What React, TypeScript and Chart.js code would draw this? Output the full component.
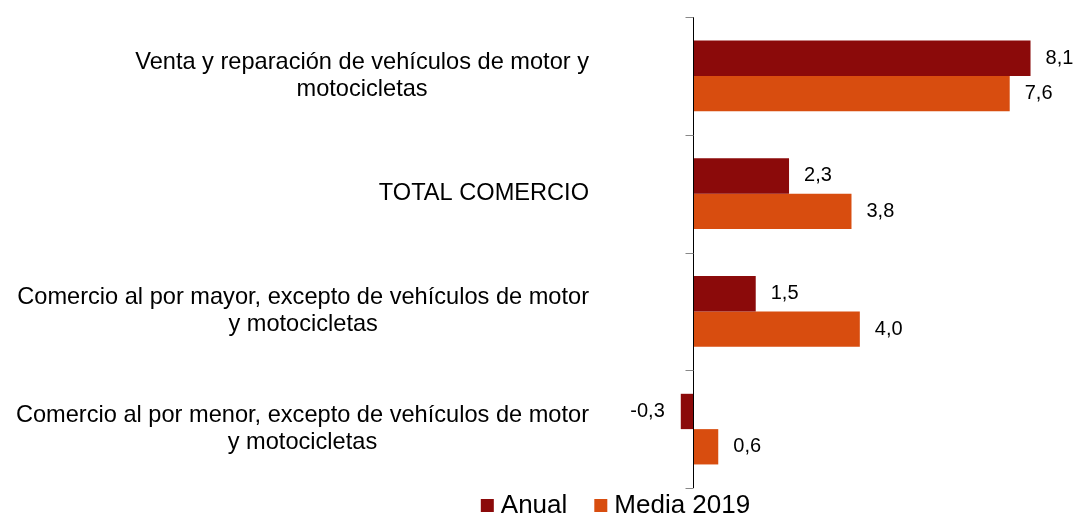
import React, { useEffect, useRef } from 'react';
import { Chart, registerables } from 'chart.js';
Chart.register(...registerables);

const categories: string[][] = [
  ['Venta y reparación de vehículos de motor y', 'motocicletas'],
  ['TOTAL COMERCIO'],
  ['Comercio al por mayor, excepto de vehículos de motor', 'y motocicletas'],
  ['Comercio al por menor, excepto de vehículos de motor', 'y motocicletas'],
];
const seriesNames = ['Anual', 'Media 2019'];
const anual = [8.1, 2.3, 1.5, -0.3];
const media2019 = [7.6, 3.8, 4.0, 0.6];
const seriesColors = ['#8B0A0A', '#D84D0F'];

const FONT = '"Liberation Sans", Arial, sans-serif';
const W = 1076;
const H = 514;

const customPlugin = {
  id: 'customDraw',
  afterDatasetsDraw(chart: any) {
    const ctx = chart.ctx;
    const ys = chart.scales.y;
    const xs = chart.scales.x;
    const area = chart.chartArea;
    const zeroX = Math.round(xs.getPixelForValue(0)) + 0.5;
    ctx.save();
    // data labels
    ctx.font = `20px ${FONT}`;
    ctx.fillStyle = '#000';
    ctx.textBaseline = 'middle';
    chart.data.datasets.forEach((ds: any, di: number) => {
      const meta = chart.getDatasetMeta(di);
      meta.data.forEach((bar: any, i: number) => {
        const v = ds.data[i] as number;
        const txt = v.toFixed(1).replace('.', ',');
        if (v >= 0) {
          ctx.textAlign = 'left';
          ctx.fillText(txt, bar.x + 15, bar.y);
        } else {
          ctx.textAlign = 'right';
          ctx.fillText(txt, bar.x - 16, bar.y);
        }
      });
    });
    // category labels: block right-aligned, lines centered
    ctx.font = `23.6px ${FONT}`;
    ctx.textAlign = 'center';
    const lh = 27;
    const labelRight = area.left - 21;
    categories.forEach((lines, i) => {
      const cy = ys.getPixelForValue(i);
      const widest = Math.max(...lines.map((l) => ctx.measureText(l).width));
      const cx = labelRight - widest / 2;
      lines.forEach((l, k) => {
        ctx.fillText(l, cx, cy + (k - (lines.length - 1) / 2) * lh);
      });
    });
    // axis line at zero
    ctx.lineWidth = 1;
    ctx.strokeStyle = '#000';
    ctx.beginPath();
    ctx.moveTo(zeroX, area.top);
    ctx.lineTo(zeroX, area.bottom);
    ctx.stroke();
    // tick marks at category boundaries
    ctx.strokeStyle = '#888';
    for (let i = 0; i <= categories.length; i++) {
      const ty = Math.round(ys.getPixelForValue(i - 0.5)) + 0.5;
      ctx.beginPath();
      ctx.moveTo(zeroX - 8, ty);
      ctx.lineTo(zeroX, ty);
      ctx.stroke();
    }
    // legend
    ctx.font = `26px ${FONT}`;
    ctx.textAlign = 'left';
    ctx.textBaseline = 'alphabetic';
    const box = 13;
    const gapText = 7;
    const gapItem = 27;
    const items = chart.data.datasets.map((ds: any) => ({
      text: ds.label as string,
      color: ds.backgroundColor as string,
      w: ctx.measureText(ds.label).width,
    }));
    const total =
      items.reduce((s: number, it: any) => s + box + gapText + it.w, 0) +
      gapItem * (items.length - 1);
    const centerX = (155 + W) / 2;
    let lx = centerX - total / 2;
    const baseY = 513;
    items.forEach((it: any) => {
      ctx.fillStyle = it.color;
      ctx.fillRect(lx, baseY - 14, box, box);
      ctx.fillStyle = '#000';
      ctx.fillText(it.text, lx + box + gapText, baseY);
      lx += box + gapText + it.w + gapItem;
    });
    ctx.restore();
  },
};

export default function App() {
  const ref = useRef<HTMLCanvasElement>(null);
  useEffect(() => {
    document.body.style.margin = '0';
    Chart.defaults.font.family = FONT;
    const chart = new Chart(ref.current as HTMLCanvasElement, {
      type: 'bar',
      data: {
        labels: categories.map((c) => c.join(' ')),
        datasets: [
          {
            label: seriesNames[0],
            data: anual,
            backgroundColor: seriesColors[0],
            categoryPercentage: 0.6,
            barPercentage: 1,
          },
          {
            label: seriesNames[1],
            data: media2019,
            backgroundColor: seriesColors[1],
            categoryPercentage: 0.6,
            barPercentage: 1,
          },
        ],
      },
      options: {
        indexAxis: 'y',
        responsive: false,
        animation: false,
        layout: { padding: { top: 17, left: 155, right: 8, bottom: 26 } },
        scales: {
          x: { display: false, min: -2, max: 9 },
          y: {
            grid: { display: false },
            border: { display: false },
            ticks: { display: false },
            afterFit: (s: any) => {
              s.width = 455;
            },
          },
        },
        plugins: {
          legend: { display: false },
          tooltip: { enabled: false },
        },
      },
      plugins: [customPlugin],
    });
    return () => chart.destroy();
  }, []);
  return (
    <div style={{ width: W, height: H }}>
      <canvas ref={ref} width={W} height={H} />
    </div>
  );
}
